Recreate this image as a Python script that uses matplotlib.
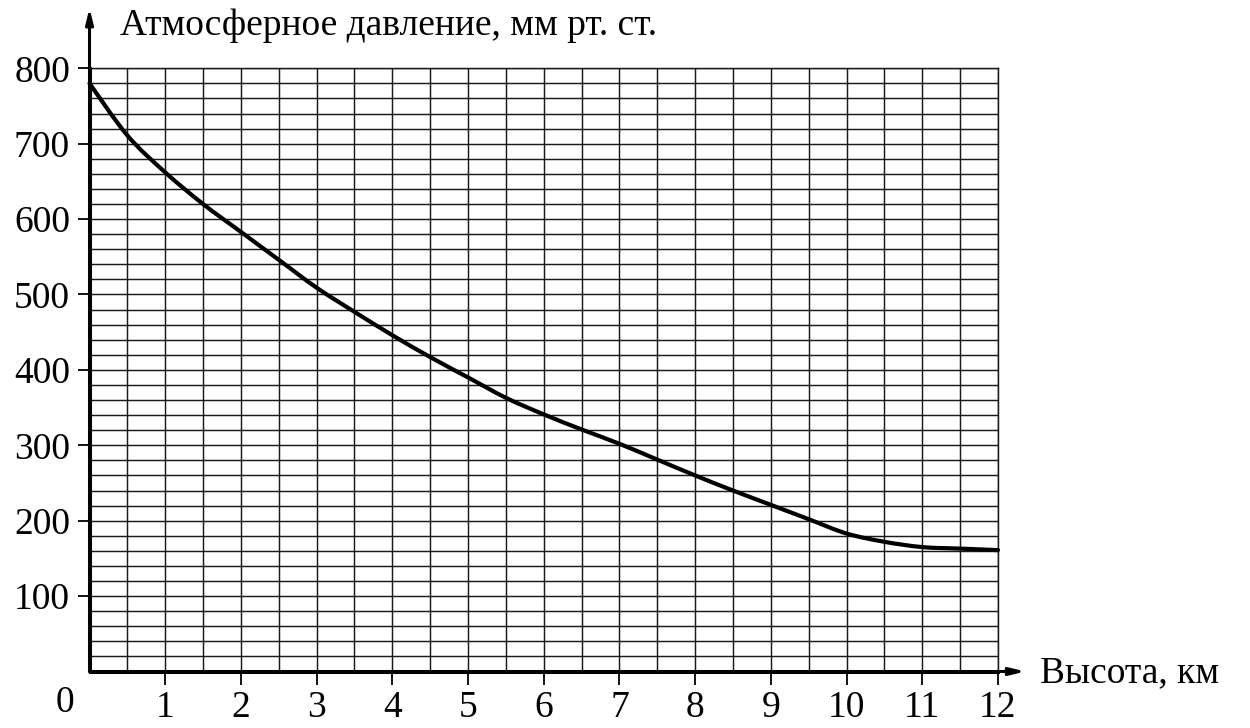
import matplotlib
matplotlib.use('Agg')
from matplotlib import pyplot as plt
from matplotlib.path import Path
from matplotlib.patches import PathPatch

# values
height_km = [0, 0.5, 1, 1.5, 2, 2.5, 3, 3.5, 4, 4.5, 5, 5.5, 6,
             6.5, 7, 7.5, 8, 8.5, 9, 9.5, 10, 10.5, 11, 11.5, 12]
pressure_mm = [780, 711, 662, 620, 583, 546, 509, 477, 446, 417, 390, 363, 341,
               321, 302, 281, 260, 240, 221, 202, 183, 172, 165, 163, 161]
x_ticks = list(range(1, 13))
y_ticks = list(range(100, 801, 100))

plt.rcParams['font.family'] = ['Liberation Serif', 'DejaVu Serif']
fs = 27


def smooth_path(xs, ys):
    # smooth curve through every point (Catmull-Rom as cubic Bezier)
    pts = list(zip(xs, ys))
    n = len(pts)
    verts = [pts[0]]
    codes = [Path.MOVETO]
    for i in range(n - 1):
        p0 = pts[max(i - 1, 0)]
        p1 = pts[i]
        p2 = pts[i + 1]
        p3 = pts[min(i + 2, n - 1)]
        c1 = (p1[0] + (p2[0] - p0[0]) / 6, p1[1] + (p2[1] - p0[1]) / 6)
        c2 = (p2[0] - (p3[0] - p1[0]) / 6, p2[1] - (p3[1] - p1[1]) / 6)
        verts += [c1, c2, p2]
        codes += [Path.CURVE4] * 3
    return Path(verts, codes)


fig = plt.figure(figsize=(12.5, 7.28), dpi=100)
left, right = 89.5 / 1250, 998 / 1250
bottom, top = (728 - 671.5) / 728, (728 - 68.3) / 728
ax = fig.add_axes([left, bottom, right - left, top - bottom])

ax.set_xlim(0, 12)
ax.set_ylim(0, 800)

# fine grid: 0.5 km by 20 mm
ax.set_xticks([i * 0.5 for i in range(25)], minor=True)
ax.set_yticks(list(range(0, 801, 20)), minor=True)
ax.grid(which='both', color='#1a1a1a', lw=1.05, zorder=1)
ax.tick_params(which='minor', length=0)

ax.set_xticks(x_ticks)
ax.set_xticklabels([str(t) for t in x_ticks], fontsize=fs)
ax.set_yticks(y_ticks)
ax.set_yticklabels([str(t) for t in y_ticks], fontsize=fs)
ax.tick_params(which='major', direction='out', length=9, width=1.3,
               color='black', pad=5)

for side in ['top', 'right']:
    ax.spines[side].set_linewidth(1.05)
    ax.spines[side].set_color('#1a1a1a')
for side in ['left', 'bottom']:
    ax.spines[side].set_linewidth(2.2)

curve = PathPatch(smooth_path(height_km, pressure_mm), facecolor='none',
                  edgecolor='black', lw=3, zorder=5, capstyle='round',
                  clip_on=False)
ax.add_patch(curve)

# axis arrows
arrow = dict(arrowstyle='-|>,head_length=0.9,head_width=0.22', lw=2.2,
             color='black', shrinkA=0, shrinkB=0)
ax.annotate('', xy=(12.36, 0), xytext=(0, 0), arrowprops=arrow,
            annotation_clip=False, zorder=6)
ax.annotate('', xy=(0, 880), xytext=(0, 0), arrowprops=arrow,
            annotation_clip=False, zorder=6)

ax.text(-0.32, -18, '0', fontsize=fs, ha='center', va='top')
ax.text(12.55, -2, 'Высота, км', fontsize=fs, ha='left', va='center')
ax.text(0.4, 856, 'Атмосферное давление, мм рт. ст.', fontsize=fs,
        ha='left', va='center')

fig.savefig('out.png', dpi=100)
